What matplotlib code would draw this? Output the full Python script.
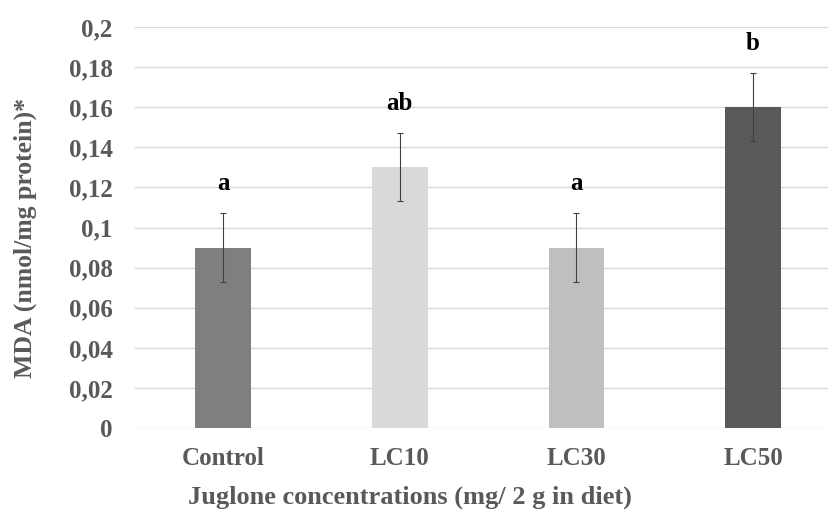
import matplotlib
matplotlib.use("Agg")
import matplotlib.pyplot as plt
import numpy as np

# data
groups = ["Control", "LC10", "LC30", "LC50"]
mda = [0.09, 0.13, 0.09, 0.16]
err = [0.017, 0.017, 0.017, 0.017]
letters = ["a", "ab", "a", "b"]
bar_colors = ["#7f7f7f", "#d9d9d9", "#bfbfbf", "#595959"]
yticks = [0, 0.02, 0.04, 0.06, 0.08, 0.1, 0.12, 0.14, 0.16, 0.18, 0.2]
ytick_labels = ["0", "0,02", "0,04", "0,06", "0,08", "0,1", "0,12", "0,14", "0,16", "0,18", "0,2"]

plt.rcParams['font.family'] = ['Liberation Serif', 'DejaVu Serif']
txt_grey = "#595959"

fig = plt.figure(figsize=(8.29, 5.16), dpi=100)
ax = fig.add_axes([0.1628, 0.1705, 0.8372, 0.7772])

x = np.arange(len(groups))
ax.bar(x, mda, width=0.315, color=bar_colors, zorder=3)
ax.errorbar(x, mda, yerr=err, fmt='none', ecolor="#404040", elinewidth=0.8,
            capsize=2.5, capthick=0.8, zorder=4)
for xi, v, e, lab in zip(x, mda, err, letters):
    ax.text(xi, v + e + 0.015, lab, ha='center', va='center',
            fontsize=18, fontweight='bold', color='black')

ax.set_xlim(-0.5, 3.43)
ax.set_ylim(0, 0.2)
ax.set_yticks(yticks)
ax.set_yticklabels(ytick_labels)
ax.set_xticks(x)
ax.set_xticklabels(groups)
ax.tick_params(axis='both', length=0, labelsize=18, labelcolor=txt_grey)
ax.tick_params(axis='y', pad=16)
ax.tick_params(axis='x', pad=14)
for lbl in ax.get_xticklabels() + ax.get_yticklabels():
    lbl.set_fontweight('bold')

ax.grid(axis='y', color="#d9d9d9", linewidth=1, zorder=0)
ax.set_axisbelow(True)
for s in ax.spines.values():
    s.set_visible(False)

fig.text(0.4946, 0.0368, "Juglone concentrations (mg/ 2 g in diet)", ha='center', va='center',
         fontsize=19, fontweight='bold', color=txt_grey)
fig.text(0.030, 0.538, "MDA (nmol/mg protein)*", ha='center', va='center', rotation=90,
         fontsize=18.5, fontweight='bold', color=txt_grey)

fig.savefig("out.png", dpi=100)
